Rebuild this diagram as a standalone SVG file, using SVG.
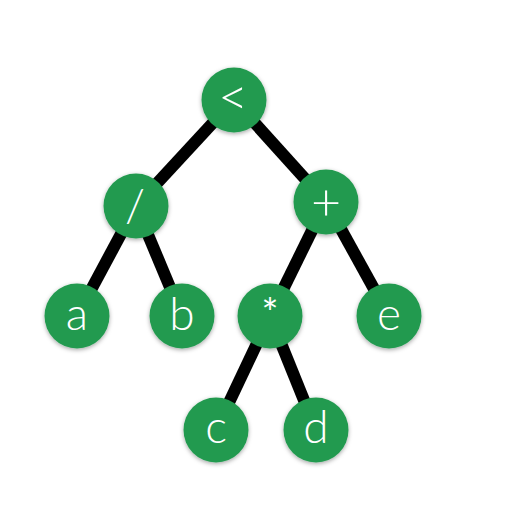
<svg xmlns="http://www.w3.org/2000/svg" width="512" height="519" viewBox="0 0 512 519">
<defs>
<filter id="sh" x="-30%" y="-30%" width="160%" height="160%">
<feDropShadow dx="0" dy="1.5" stdDeviation="2" flood-color="#000" flood-opacity="0.35"/>
</filter>
<style>
.e{stroke:#000;stroke-width:12;fill:none}
.n{fill:#239a50;filter:url(#sh)}
.t{fill:#fff;font-family:Lato,"Open Sans","Liberation Sans",sans-serif;font-weight:300;font-size:46px;text-anchor:middle}
</style>
</defs>
<rect width="512" height="519" fill="#fff"/>
<g id="edges">
<line class="e" x1="234" y1="100" x2="136" y2="206"/>
<line class="e" x1="234" y1="100" x2="326" y2="202"/>
<line class="e" x1="136" y1="206" x2="77" y2="316"/>
<line class="e" x1="136" y1="206" x2="182" y2="316"/>
<line class="e" x1="326" y1="202" x2="270" y2="316"/>
<line class="e" x1="326" y1="202" x2="389" y2="316"/>
<line class="e" x1="270" y1="316" x2="216" y2="430"/>
<line class="e" x1="270" y1="316" x2="316" y2="430"/>
</g>
<g id="n_lt"><circle class="n" cx="234" cy="100" r="32.5"/><text class="t" x="233" y="115" style="font-size:52px">&lt;</text></g>
<g id="n_div"><circle class="n" cx="136" cy="206" r="32.5"/><text class="t" x="135" y="222">/</text></g>
<g id="n_plus"><circle class="n" cx="326" cy="202" r="32.5"/><text class="t" x="326" y="220" style="font-size:52px">+</text></g>
<g id="n_a"><circle class="n" cx="77" cy="316" r="32.5"/><text class="t" x="77" y="330">a</text></g>
<g id="n_b"><circle class="n" cx="182" cy="316" r="32.5"/><text class="t" x="182" y="330">b</text></g>
<g id="n_mul"><circle class="n" cx="270" cy="316" r="32.5"/><text class="t" x="270" y="328" style="font-size:40px;font-weight:400">*</text></g>
<g id="n_e"><circle class="n" cx="389" cy="316" r="32.5"/><text class="t" x="389" y="330">e</text></g>
<g id="n_c"><circle class="n" cx="216" cy="430" r="32.5"/><text class="t" x="216" y="443">c</text></g>
<g id="n_d"><circle class="n" cx="316" cy="430" r="32.5"/><text class="t" x="316" y="443">d</text></g>
</svg>
